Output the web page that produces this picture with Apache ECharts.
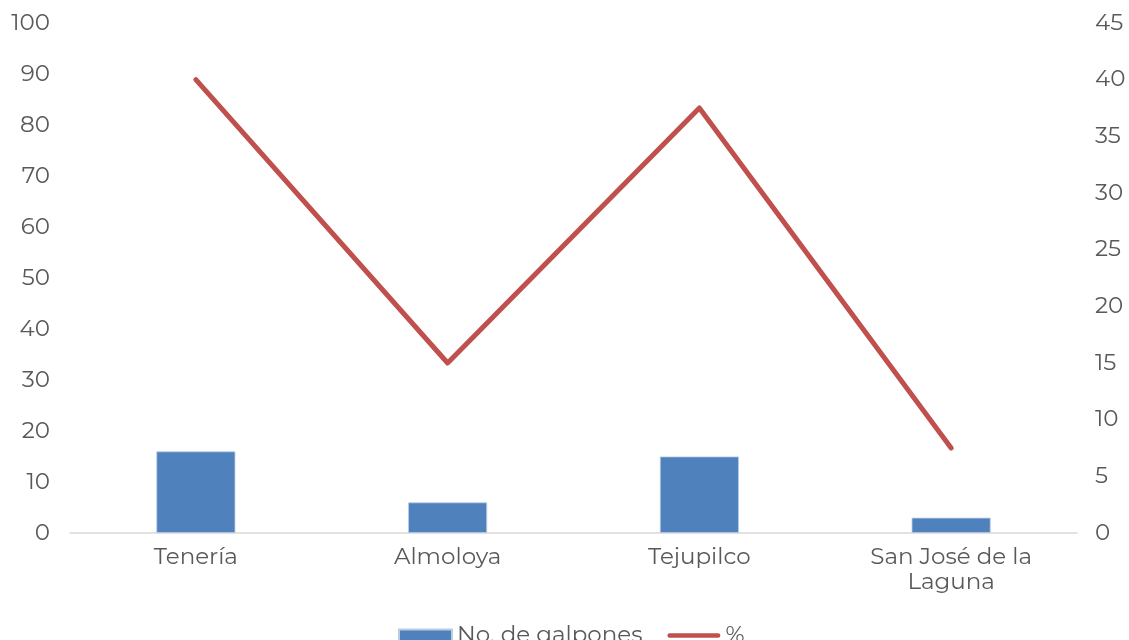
<!DOCTYPE html>
<html><head><meta charset="utf-8">
<script src="https://cdn.jsdelivr.net/npm/echarts@6/dist/echarts.min.js"></script>
<style>html,body{margin:0;padding:0;background:#fff}#c{width:1129px;height:640px}</style>
</head><body><div id="c"></div>
<script>
var categories = ["Tenería", "Almoloya", "Tejupilco", "San José de la\nLaguna"];
var galpones = [16, 6, 15, 3];
var percent = [40, 15, 37.5, 7.5];
var leftTicks = [0, 100, 10];
var rightTicks = [0, 45, 5];

var font = "Montserrat, 'Noto Sans', 'Open Sans', sans-serif";
var chart = echarts.init(document.getElementById('c'));
chart.setOption({
  animation: false,
  textStyle: {fontFamily: font},
  grid: {left: 70, right: 52, top: 23, bottom: 107, containLabel: false},
  legend: {
    top: 619, left: 393, itemGap: 25, itemWidth: 53, itemHeight: 12,
    textStyle: {fontSize: 23, color: '#595959', fontFamily: font},
    data: [{name: 'No. de galpones', icon: 'rect'},
           {name: '%', icon: 'path://M2,0 L98,0 A4,4 0 0 1 98,9 L2,9 A4,4 0 0 1 2,0 Z'}]
  },
  xAxis: {
    type: 'category', data: categories,
    axisLine: {lineStyle: {color: '#d9d9d9', width: 1.5}},
    axisTick: {show: false},
    axisLabel: {fontSize: 23, color: '#595959', margin: 12, lineHeight: 25, interval: 0}
  },
  yAxis: [
    {type: 'value', min: leftTicks[0], max: leftTicks[1], interval: leftTicks[2],
     splitLine: {show: false}, axisLine: {show: false}, axisTick: {show: false},
     axisLabel: {fontSize: 23, color: '#595959', margin: 20}},
    {type: 'value', min: rightTicks[0], max: rightTicks[1], interval: rightTicks[2],
     splitLine: {show: false}, axisLine: {show: false}, axisTick: {show: false},
     axisLabel: {fontSize: 23, color: '#595959', margin: 18}}
  ],
  series: [
    {name: 'No. de galpones', type: 'bar', data: galpones, barWidth: 79,
     itemStyle: {color: '#4F81BD', borderColor: '#b9cde5', borderWidth: 0.8}},
    {name: '%', type: 'line', yAxisIndex: 1, data: percent, symbol: 'none',
     lineStyle: {color: '#C0504D', width: 5, cap: 'round', join: 'round'},
     itemStyle: {color: '#C0504D'}}
  ]
});
</script></body></html>
